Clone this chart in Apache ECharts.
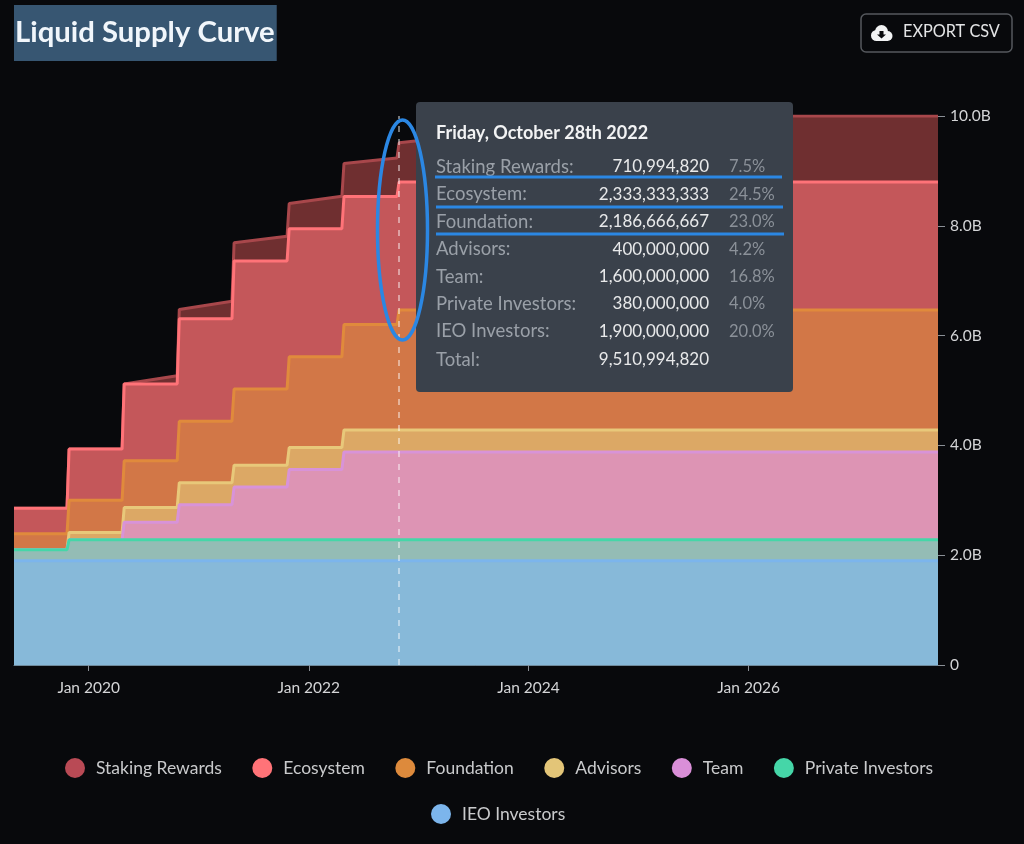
<!DOCTYPE html>
<html>
<head>
<meta charset="utf-8">
<title>Liquid Supply Curve</title>
<script src="https://cdn.jsdelivr.net/npm/echarts@6/dist/echarts.min.js"></script>
<style>
	html, body { margin: 0; padding: 0; background: #08090c; }
	#chart { width: 1024px; height: 844px; }
</style>
</head>
<body>
<div id="chart"></div>
<script>
// each release is a pair of dates, so the riser of a step is a short slope
var dates = ['2019-04-28', '2019-10-21', '2019-10-28', '2020-04-21', '2020-04-28', '2020-10-21', '2020-10-28',
	'2021-04-21', '2021-04-28', '2021-10-21', '2021-10-28', '2022-04-21', '2022-04-28', '2022-10-21', '2022-10-28',
	'2025-01-28', '2027-09-22'];
var ieoInvestors = [1900000000, 1900000000, 1900000000, 1900000000, 1900000000, 1900000000, 1900000000, 1900000000, 1900000000,
	1900000000, 1900000000, 1900000000, 1900000000, 1900000000, 1900000000, 1900000000, 1900000000];
var privateInvestors = [200000000, 200000000, 380000000, 380000000, 380000000, 380000000, 380000000, 380000000, 380000000,
	380000000, 380000000, 380000000, 380000000, 380000000, 380000000, 380000000, 380000000];
var team = [0, 0, 0, 0, 320000000, 320000000, 640000000, 640000000, 960000000,
	960000000, 1280000000, 1280000000, 1600000000, 1600000000, 1600000000, 1600000000, 1600000000];
var advisors = [0, 0, 133000000, 133000000, 267000000, 267000000, 400000000, 400000000, 400000000,
	400000000, 400000000, 400000000, 400000000, 400000000, 400000000, 400000000, 400000000];
var foundation = [290000000, 290000000, 587000000, 587000000, 853000000, 853000000, 1120000000, 1120000000, 1387000000,
	1387000000, 1653000000, 1653000000, 1920000000, 1920000000, 2186666667, 2186666667, 2186666667];
var ecosystem = [467000000, 467000000, 933000000, 933000000, 1400000000, 1400000000, 1867000000, 1867000000, 2333333333,
	2333333333, 2333333333, 2333333333, 2333333333, 2333333333, 2333333333, 2333333333, 2333333333];
var stakingRewards = [0, 0, 0, 0, 0, 150000000, 170000000, 320000000, 330000000,
	450000000, 460000000, 590000000, 600000000, 700000000, 710994820, 1200000000, 1200000000];

var xTicks = ['2020-01-01', '2022-01-01', '2024-01-01', '2026-01-01'];
var yTicks = [0, 2000000000, 4000000000, 6000000000, 8000000000, 10000000000];

var tipIndex = 14;
var tipTitle = 'Friday, October 28th 2022';

// bottom of the stack first
var names = ['IEO Investors', 'Private Investors', 'Team', 'Advisors', 'Foundation', 'Ecosystem', 'Staking Rewards'];
var values = [ieoInvestors, privateInvestors, team, advisors, foundation, ecosystem, stakingRewards];
var lineColors = ['#7cb5ec', '#45d6a8', '#d893d8', '#e8c87a', '#e08a3c', '#ff7378', '#a8474b'];
var fillColors = ['#87b9d9', '#94bcb5', '#dd94b4', '#dca865', '#d27747', '#c4575a', '#6f2f30'];
var legendColors = ['#7cb5ec', '#45d6a8', '#da8fd8', '#e3c578', '#dd8a3c', '#ff7378', '#b94a55'];

var font = 'Lato, "Noto Sans", sans-serif';

function toTime(d) {
	return +echarts.time.parse(d);
}
var xTickValues = xTicks.map(toTime);

// value comes first in each row: on two value axes the stack goes on the first dimension
var series = names.map(function(name, i) {
	return {
		name : name,
		type : 'line',
		stack : 'supply',
		symbol : 'none',
		z : 20 - i,
		encode : { x : 1, y : 0 },
		data : dates.map(function(d, k) {
			return [ values[i][k], toTime(d) ];
		}),
		itemStyle : { color : legendColors[i] },
		lineStyle : { color : lineColors[i], width : 3 },
		areaStyle : { color : fillColors[i], opacity : 1 }
	};
});
series[0].markLine = {
	silent : true,
	z : 30,
	symbol : 'none',
	label : { show : false },
	lineStyle : { color : 'rgba(255,255,255,0.6)', type : [ 6, 7 ], width : 1.5 },
	data : [ { xAxis : toTime(dates[tipIndex]) } ]
};

// tooltip panel, drawn on the canvas so the blue marks can sit over it
var tipTotal = 0;
values.forEach(function(v) { tipTotal += v[tipIndex]; });
var tipChildren = [
	{ type : 'rect', z : 100, shape : { x : 416, y : 102, width : 377, height : 290, r : 4 }, style : { fill : '#3a414b' } },
	{ type : 'text', z : 101, x : 436, y : 133, style : { text : tipTitle, fill : '#f2f3f4', font : 'bold 18px ' + font, textVerticalAlign : 'middle' } }
];
function numberText(v) {
	return echarts.format.addCommas(v);
}
function addRow(rowY, label, value, percent) {
	tipChildren.push({ type : 'text', z : 101, x : 436, y : rowY, style : { text : label, fill : '#9aa0a8', font : '18.5px ' + font, textVerticalAlign : 'middle' } });
	tipChildren.push({ type : 'text', z : 101, x : 709, y : rowY, style : { text : value, fill : '#e8e9ea', font : '17px ' + font, textAlign : 'right', textVerticalAlign : 'middle' } });
	if (percent) {
		tipChildren.push({ type : 'text', z : 101, x : 729, y : rowY, style : { text : percent, fill : '#8b9199', font : '16.5px ' + font, textVerticalAlign : 'middle' } });
	}
}
for (var r = names.length - 1; r >= 0; r--) {
	var v = values[r][tipIndex];
	addRow(167 + (names.length - 1 - r) * 27.4, names[r] + ':', numberText(v), (v / tipTotal * 100).toFixed(1) + '%');
}
addRow(360, 'Total:', numberText(tipTotal), '');

// hand drawn blue annotation
var blue = '#2b87e3';
[ [ 435, 177, 782 ], [ 436, 207, 783 ], [ 436, 234, 784 ] ].forEach(function(l) {
	tipChildren.push({ type : 'line', z : 102, shape : { x1 : l[0], y1 : l[1], x2 : l[2], y2 : l[1] }, style : { stroke : blue, lineWidth : 3 } });
});
tipChildren.push({ type : 'ellipse', z : 102, shape : { cx : 402.5, cy : 230, rx : 25, ry : 110 }, style : { fill : 'none', stroke : blue, lineWidth : 3.5 } });

var chart = echarts.init(document.getElementById('chart'));
var option = {
	backgroundColor : '#08090c',
	animation : false,
	textStyle : { fontFamily : font },
	title : {
		text : 'Liquid Supply Curve',
		left : 14,
		top : 5,
		padding : [ 11, 2, 11, 1 ],
		backgroundColor : '#375672',
		textStyle : { color : '#f1f6fb', fontSize : 29.3, fontWeight : 'bold', fontFamily : font, lineHeight : 34 }
	},
	grid : { left : 14, right : 86, top : 116, bottom : 179 },
	legend : [ {
		data : [ 'Staking Rewards', 'Ecosystem', 'Foundation', 'Advisors', 'Team', 'Private Investors' ],
		left : 65,
		top : 758,
		padding : 0,
		icon : 'circle',
		itemWidth : 20,
		itemHeight : 20,
		itemGap : 30.5,
		selectedMode : false,
		textStyle : { color : '#c9cacc', fontSize : 17.5, padding : [ 0, 0, 0, 6 ] }
	}, {
		data : [ 'IEO Investors' ],
		left : 431,
		top : 804,
		padding : 0,
		icon : 'circle',
		itemWidth : 20,
		itemHeight : 20,
		selectedMode : false,
		textStyle : { color : '#c9cacc', fontSize : 17.5, padding : [ 0, 0, 0, 6 ] }
	} ],
	xAxis : {
		type : 'value',
		min : toTime(dates[0]),
		max : toTime(dates[dates.length - 1]),
		splitLine : { show : false },
		axisLine : { lineStyle : { color : '#6f8a9c', width : 1 } },
		axisTick : { show : true, length : 6, customValues : xTickValues, lineStyle : { color : '#8a8f96' } },
		axisLabel : {
			customValues : xTickValues,
			color : '#d4d5d7',
			fontSize : 15.5,
			margin : 15,
			formatter : function(value) {
				return echarts.time.format(value, '{MMM} {yyyy}');
			}
		}
	},
	yAxis : {
		type : 'value',
		position : 'right',
		min : 0,
		max : yTicks[yTicks.length - 1],
		interval : yTicks[1],
		splitLine : { show : false },
		axisLine : { show : false },
		axisTick : { show : true, length : 7, lineStyle : { color : '#8a8f96' } },
		axisLabel : {
			color : '#d4d5d7',
			fontSize : 15.5,
			margin : 12,
			formatter : function(value) {
				return value === 0 ? '0' : (value / 1000000000).toFixed(1) + 'B';
			}
		}
	},
	series : series,
	graphic : [ {
		type : 'group',
		children : tipChildren
	}, {
		type : 'group',
		children : [
			{ type : 'rect', shape : { x : 861, y : 14, width : 151, height : 38, r : 5 }, style : { fill : 'none', stroke : '#55585d', lineWidth : 1.5 } },
			// cloud icon with a download arrow
			{ type : 'circle', shape : { cx : 876.5, cy : 35.5, r : 5.5 }, style : { fill : '#f2f3f4' } },
			{ type : 'circle', shape : { cx : 881.5, cy : 31.5, r : 6.5 }, style : { fill : '#f2f3f4' } },
			{ type : 'circle', shape : { cx : 887.5, cy : 36, r : 5 }, style : { fill : '#f2f3f4' } },
			{ type : 'rect', shape : { x : 876, y : 34, width : 12, height : 7 }, style : { fill : '#f2f3f4' } },
			{ type : 'polygon', z : 1, shape : { points : [ [ 879.5, 31 ], [ 883.5, 31 ], [ 883.5, 34.5 ], [ 886, 34.5 ], [ 881.5, 38.5 ], [ 877, 34.5 ], [ 879.5, 34.5 ] ] }, style : { fill : '#08090c' } },
			{ type : 'text', x : 903, y : 32, style : { text : 'EXPORT CSV', fill : '#e4e5e6', font : '16.3px ' + font, textVerticalAlign : 'middle' } }
		]
	} ]
};
chart.setOption(option);
</script>
</body>
</html>
